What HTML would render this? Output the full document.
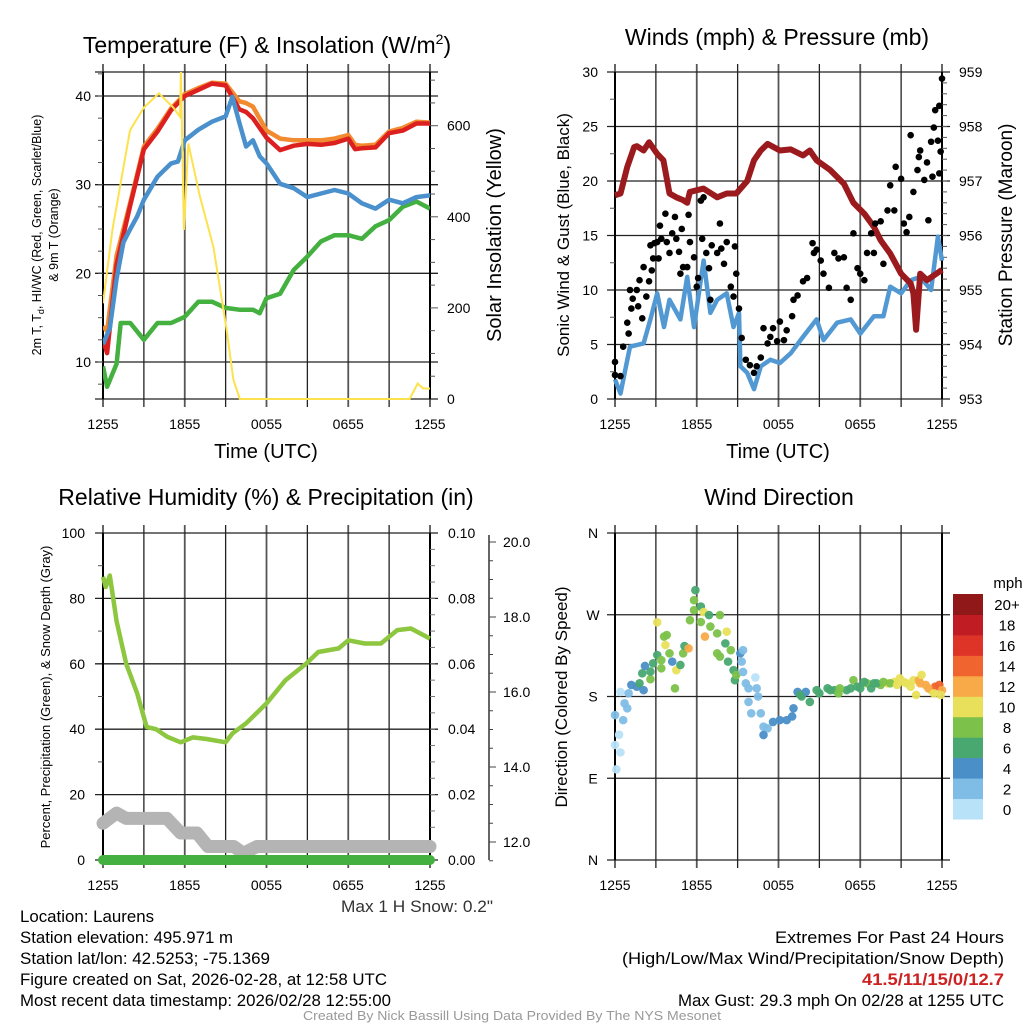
<!DOCTYPE html>
<html><head><meta charset="utf-8"><style>
html,body{margin:0;padding:0;background:#fff;}
svg{display:block;font-family:"Liberation Sans",sans-serif;}
</style></head><body>
<svg id="c" width="1024" height="1024" viewBox="0 0 1024 1024" xmlns="http://www.w3.org/2000/svg">
<text x="267" y="53" font-size="23" text-anchor="middle">Temperature (F) &amp; Insolation (W/m<tspan font-size="14" dy="-9">2</tspan><tspan dy="9">)</tspan></text>
<text x="777" y="45" font-size="23" text-anchor="middle">Winds (mph) &amp; Pressure (mb)</text>
<text x="266" y="505" font-size="23" text-anchor="middle">Relative Humidity (%) &amp; Precipitation (in)</text>
<text x="779" y="505" font-size="23" text-anchor="middle">Wind Direction</text>
<g id="g"></g>
<g font-size="16.5">
<text x="20" y="922" textLength="134" lengthAdjust="spacingAndGlyphs">Location: Laurens</text>
<text x="20" y="943" textLength="213" lengthAdjust="spacingAndGlyphs">Station elevation: 495.971 m</text>
<text x="20" y="964" textLength="250" lengthAdjust="spacingAndGlyphs">Station lat/lon: 42.5253; -75.1369</text>
<text x="20" y="985" textLength="367" lengthAdjust="spacingAndGlyphs">Figure created on Sat, 2026-02-28, at 12:58 UTC</text>
<text x="20" y="1006" textLength="371" lengthAdjust="spacingAndGlyphs">Most recent data timestamp: 2026/02/28 12:55:00</text>
<text x="341" y="912" textLength="152" lengthAdjust="spacingAndGlyphs" fill="#333">Max 1 H Snow: 0.2"</text>
<text x="775" y="943" textLength="229" lengthAdjust="spacingAndGlyphs">Extremes For Past 24 Hours</text>
<text x="622" y="964" textLength="382" lengthAdjust="spacingAndGlyphs">(High/Low/Max Wind/Precipitation/Snow Depth)</text>
<text x="862" y="985" textLength="142" lengthAdjust="spacingAndGlyphs" fill="#cc2222" font-weight="bold">41.5/11/15/0/12.7</text>
<text x="678" y="1006" textLength="326" lengthAdjust="spacingAndGlyphs">Max Gust: 29.3 mph On 02/28 at 1255 UTC</text>
<text x="303" y="1020" textLength="418" lengthAdjust="spacingAndGlyphs" font-size="13" fill="#999">Created By Nick Bassill Using Data Provided By The NYS Mesonet</text>
</g>
</svg>
<script>
// ---- data ----
const xTickLabels=["1255","1855","0055","0655","1255"];
const tempTicks=[10,20,30,40];
const solarTicks=[0,200,400,600];
const windTicks=[0,5,10,15,20,25,30];
const presTicks=[953,954,955,956,957,958,959];
const rhTicks=[0,20,40,60,80,100];
const precipTicks=["0.00","0.02","0.04","0.06","0.08","0.10"];
const snowTicks=[12,14,16,18,20];
const dirTicks=["N","E","S","W","N"];
const speedBins=["0","2","4","6","8","10","12","14","16","18","20+"];

const tHours=[0,0.3,1,2,3,4,5,6,7,8,9,10,10.5,11,12,13,14,15,16,17,18,18.5,19,20,21,22,23,24];
const tempRed=[12.5,11,21,27.7,34,36,38.4,40,40.7,41.4,41.2,38.5,38.2,37.5,35.3,33.9,34.4,34.6,34.5,34.7,35.2,34,34.1,34.2,35.8,36.1,36.9,36.9];
const tempOrange=[14,13.5,22,28,34.3,36.3,38.6,40.2,40.9,41.5,41.4,39.4,39.2,38.8,36.1,35.2,35,35,35,35.2,35.6,34.5,34.4,34.5,36,36.4,37.1,37];
const bHours=[0,0.5,1,1.5,2,2.5,3,4,5,5.5,6,7,8,9,9.5,10,10.5,11,11.5,12,13,14,15,16,17,18,19,20,21,22,23,24];
const tempBlue=[12,13.8,19.4,23.5,25,26.4,28.3,30.9,32.4,32.6,35,36.2,37.1,37.7,39.9,37,34.3,35,33.2,32.4,30.1,29.6,28.6,29,29.4,29,27.9,27.3,28.3,27.9,28.6,28.8];
const gHours=[0,0.3,1,1.3,2,3,4,5,6,7,8,9,10,11,11.5,12,13,14,15,16,17,18,19,20,21,22,23,24];
const tempGreen=[9.5,7.2,9.8,14.4,14.4,12.5,14.4,14.4,15.1,16.8,16.8,16.1,15.9,15.9,15.5,17.2,17.7,20.4,21.9,23.6,24.3,24.3,23.9,25.3,26,27.5,28.1,27.3];
const sHours=[0,0.69,1.98,3.0,4.1,5.16,5.65,5.72,5.94,6.26,7.12,8.1,9.08,9.57,10.05,22.5,23.1,23.5,24];
const solar=[210,371,590,640,671,640,620,718,371,561,444,334,151,42,0,0,34,23,23];

const wHours=[0,0.4,0.9,1.1,2.1,2.6,3.1,3.6,4.0,4.8,5.3,5.8,6.5,7,7.5,8.2,8.7,9.1,9.2,9.7,10.2,10.7,11.4,12.1,12.9,13.8,14.8,15.3,16.3,17.3,18,19,19.7,20.2,21,21.7,22.4,23.2,23.7,24];
const windSpeed=[1.8,0.5,3.6,4.8,5.1,7.3,9.7,6.6,9.1,7.3,11.2,6.6,12.7,7.9,9.1,9.7,6.6,7.9,3.0,2.4,0.9,3.0,3.6,3.3,4.2,5.7,7.3,5.4,7,7.3,6,7.6,7.6,10.3,9.7,10.9,11.2,10,14.9,12.7];
const pHours=[0,0.4,0.9,1.4,1.6,2.1,2.5,3.1,3.55,4,4.5,5,5.3,5.5,6.5,7.5,8.2,8.9,9.7,10.2,10.7,11.2,12.1,12.9,13.8,14.3,14.8,15.8,16.8,17.5,18.3,19,19.5,20.2,21,21.7,21.9,22.1,22.4,22.9,24];
const pressure=[956.74,956.77,957.26,957.62,957.64,957.56,957.71,957.5,957.38,956.77,956.7,956.65,956.6,956.8,956.86,956.7,956.77,956.77,957.0,957.38,957.56,957.68,957.56,957.58,957.47,957.56,957.38,957.2,956.95,956.6,956.4,956.16,955.91,955.67,955.3,955.12,954.94,954.27,955.3,955.18,955.37];
const gustHours=[0,0,0.4,0.6,0.9,1.0,1.1,1.2,1.3,1.6,1.7,1.8,2.0,2.1,2.3,2.5,2.6,2.7,2.8,2.9,3.1,3.2,3.3,3.4,3.7,3.8,4.0,4.2,4.4,4.5,4.7,4.8,4.9,5.0,5.3,5.4,5.5,5.8,6.0,6.1,6.3,6.4,6.5,6.7,6.9,7.0,7.1,7.5,7.7,7.8,8.0,8.2,8.5,8.7,8.8,8.9,9.1,9.3,9.6,9.9,10.2,10.4,10.7,10.9,11.2,11.4,11.6,11.9,12.1,12.4,12.6,13.0,13.1,13.4,13.8,14.1,14.5,14.6,14.8,15.1,15.3,15.7,16.1,16.4,16.8,17.0,17.3,17.5,17.8,18.0,18.3,18.5,18.8,19.0,19.1,19.5,19.7,20.0,20.2,20.5,20.6,21.0,21.2,21.4,21.6,21.7,21.9,22.2,22.3,22.4,22.7,22.9,23.0,23.2,23.3,23.4,23.5,23.7,23.8,23.9,24.0,23.8];
const gust=[3.4,2.2,2.1,4.8,7.0,6.0,10.0,8.3,9.2,10.0,8.5,10.9,7.4,12.1,9.4,10.8,14.1,11.8,12.9,14.3,14.4,12.9,15.9,14.7,17.0,14.4,13.4,15.2,16.7,14.7,13.5,11.5,15.6,12.1,12.1,16.9,14.4,13.0,10.3,11.1,18.2,14.7,18.5,13.4,12.0,9.1,14.1,13.4,16.1,13.8,12.4,14.4,10.3,9.4,14.0,11.5,8.3,5.6,3.6,3.1,2.4,3.0,3.8,6.5,5.1,5.7,6.5,5.3,7.1,5.4,6.3,7.6,9.1,9.5,10.8,11.1,14.3,13.4,13.7,12.7,11.5,10.2,13.4,12.9,13.0,10.2,9.1,15.2,12.0,11.5,10.9,13.4,15.2,13.4,16.1,16.3,12.4,17.3,19.6,17.3,21.3,20.2,16.1,15.3,16.7,24.2,19.0,21.0,22.2,22.8,20.1,21.7,16.4,23.6,20.4,24.9,26.5,23.7,26.9,22.7,29.4,20.7];

const rhHours=[0,0.2,0.5,0.7,1,1.7,2.5,3.2,3.9,4.7,5.7,6.6,7.6,9.0,9.5,10.5,12,13.4,14.9,15.8,17.3,18,19.2,20.4,21.6,22.6,24];
const rh=[86.6,83.5,87,81.5,73,60,51,40.7,40,37.7,36,37.5,37,36,38.7,41.8,47.9,55,60,63.6,64.7,67.2,66.2,66.2,70.3,70.8,67.7];
const snowHours=[0,1,1.7,4.7,5.7,6.9,7.7,9.6,10.3,11.3,24];
const snowDepth=[12.5,12.77,12.63,12.63,12.24,12.24,11.88,11.88,11.7,11.88,11.88];
const precipHours=[0,24];
const precip=[0,0];

const dirHours=[0,0,0.1,0.3,0.4,0.6,0.7,0.9,0.4,1.0,1.2,1.6,1.8,2.1,2.0,2.2,2.6,2.6,2.8,3.1,3.4,3.4,3.1,3.6,3.8,3.7,4.0,4.2,4.5,4.4,4.8,5.0,5.1,5.4,5.5,5.8,5.9,5.8,6.3,6.3,6.5,6.6,6.9,7.0,7.5,7.7,8.2,8.1,7.5,7.7,8.5,8.3,8.7,8.8,8.9,9.2,9.3,9.4,9.4,9.6,9.8,10.3,10.4,10.5,9.8,10.0,10.7,10.9,11.2,10.9,11.6,12.1,12.6,13.0,13.1,13.4,13.7,14.0,14.3,14.8,15.6,16.1,16.4,17.0,17.5,18.0,18.5,19.0,19.5,20.0,20.5,20.9,21.4,21.9,22.1,22.3,22.5,22.8,23.2,23.5,23.8,24.0,23.9,13.6,15.0,15.8,16.5,17.3,17.8,18.3,18.8,19.2,19.7,20.2,20.7,21.2,21.7,22.4,23.0,23.4];
const dirDeg=[159.6,126.6,99.8,138,118.5,154,172.5,167,185,183.5,192.7,190.8,194.5,187,205.5,213.6,199,207.4,216.5,225.7,220,211,261.7,246,247.7,236.7,227.5,218.4,209,189,214.7,227.5,235.6,233,264,275,297,286,279,262,273,246,269.7,257,249.5,269.7,251.4,238.5,227.5,224,231,218.4,209,198,203.7,227.5,218.4,231,207,194.5,189,201,189,180,174,161.5,161.5,146.8,145,137.6,152,154,154,158,167,185,180,185,174,187,189,187,183.5,187,198,189,194.5,194.5,192.7,194.5,196,200,194.5,198,181.7,198,203.7,192.7,187,190.8,192.7,187,181.7,181.7,183.5,187,189,189,190.8,196,189,194.5,196,194.5,192.7,196,190.8,194.5,189,183.5];
const dirSpeed=[2,1,0,1,1,2,2,2,0,3,4,5,6,4,6,4,8,6,6,6,8,8,10,8,8,10,8,4,10,8,6,8,6,12,8,8,6,8,6,8,10,12,6,8,8,8,10,6,8,8,8,6,6,6,8,4,3,2,2,2,2,0,2,2,2,2,2,2,2,4,4,4,4,4,4,4,6,4,6,6,6,6,8,6,8,6,8,6,8,10,10,10,10,10,10,12,10,12,10,14,14,12,10,6,6,6,8,6,6,6,6,6,8,8,10,10,10,12,12,10];

// ---- drawing ----
const NS="http://www.w3.org/2000/svg";
const G=document.getElementById('g');
function el(tag,at,parent){const e=document.createElementNS(NS,tag);for(const k in at)e.setAttribute(k,at[k]);(parent||G).appendChild(e);return e;}
function lin(d0,d1,r0,r1){return v=>r0+(v-d0)/(d1-d0)*(r1-r0);}
function pathFrom(xs,ys,fx,fy){return xs.map((h,i)=>(i?'L':'M')+fx(h).toFixed(1)+','+fy(ys[i]).toFixed(1)).join('');}
function txt(x,y,s,opt,name){const t=el('text',Object.assign({x:x,y:y},opt||{}));t.textContent=s;


return t;}

function frame(L,R,T,B,name){
  const g=el('g',{});
  
  
  for(let i=0;i<=8;i++){const x=L+(R-L)*i/8;el('line',{x1:x,x2:x,y1:T-8,y2:B+8,stroke:i%2?'#222':'#555','stroke-width':i%2?1.3:1.8},g);}
  return g;
}
function hgrid(g,L,R,ys){ys.forEach(y=>el('line',{x1:L-8,x2:R+8,y1:y,y2:y,stroke:'#222','stroke-width':1.3},g));}
function xlabels(L,R,y,name){xTickLabels.forEach((s,i)=>{txt(L+(R-L)*i/4,y,s,{'font-size':14,'text-anchor':'middle'},name+'-tick-'+i);});}

// ===== Panel 1: temperature =====
{
const L=103,R=430,T=72,B=399;
const fx=lin(0,24,L,R), fy=lin(10,40,362,96), fs=lin(0,600,399,125.7);
const g=frame(L,R,T,B,'temperature-panel');
hgrid(g,L,R,[T,B].concat(tempTicks.map(fy)));
el('line',{x1:L,x2:L,y1:T,y2:B,stroke:'#000','stroke-width':2},g);
el('line',{x1:R,x2:R,y1:T,y2:B,stroke:'#000','stroke-width':2},g);
for(let v=50;v<720;v+=50){el('line',{x1:R,x2:R+(v%200?5:8),y1:fs(v),y2:fs(v),stroke:'#555','stroke-width':1},g);}
for(let v=7.5;v<43;v+=2.5){el('line',{x1:L-5,x2:L,y1:fy(v),y2:fy(v),stroke:'#555','stroke-width':1},g);}
tempTicks.forEach(v=>txt(L-12,fy(v)+5,v,{'font-size':14,'text-anchor':'end'},'temp-tick-'+v));
solarTicks.forEach(v=>txt(R+17,fs(v)+5,v,{'font-size':14},'solar-tick-'+v));
xlabels(L,R,429,'temp-x');
txt(266,458,'Time (UTC)',{'font-size':20,'text-anchor':'middle'},'temp-x-title');
const ty=el('text',{transform:'translate(41,235) rotate(-90)','font-size':12.5,'text-anchor':'middle'});
ty.innerHTML='2m T, T<tspan font-size="9" dy="3">d</tspan><tspan dy="-3">, HI/WC (Red, Green, Scarlet/Blue)</tspan>';


txt(0,0,'& 9m T (Orange)',{transform:'translate(58,235) rotate(-90)','font-size':12.5,'text-anchor':'middle'},'temp-y-title-2');
txt(0,0,'Solar Insolation (Yellow)',{transform:'translate(501,235) rotate(-90)','font-size':20,'text-anchor':'middle'},'solar-y-title');
const clip=el('clipPath',{id:'c1'});el('rect',{x:L,y:T,width:R-L,height:B-T+2},clip);
const s=[[gHours,tempGreen,'#44b040','green-dewpoint-line'],[tHours,tempOrange,'#f28a30','orange-9m-temp-line'],[tHours,tempRed,'#dc2020','red-2m-temp-line'],[bHours,tempBlue,'#4a90cc','blue-windchill-line']];
s.forEach(a=>{const p=el('path',{d:pathFrom(a[0],a[1],fx,fy),fill:'none',stroke:a[2],'stroke-width':4.5,'stroke-linejoin':'round','clip-path':'url(#c1)'},g);

});
const ps=el('path',{d:pathFrom(sHours,solar,fx,fs),fill:'none',stroke:'#fde24e','stroke-width':2,'clip-path':'url(#c1)'},g);


}

// ===== Panel 2: winds =====
{
const L=615,R=942,T=72,B=399;
const fx=lin(0,24,L,R), fy=lin(0,30,B,T), fp=lin(953,959,B,T);
const g=frame(L,R,T,B,'winds-panel');
hgrid(g,L,R,windTicks.map(fy));
el('line',{x1:L,x2:L,y1:T,y2:B,stroke:'#000','stroke-width':2},g);
el('line',{x1:R,x2:R,y1:T,y2:B,stroke:'#000','stroke-width':2},g);
for(let v=2.5;v<30;v+=5){el('line',{x1:L-5,x2:L,y1:fy(v),y2:fy(v),stroke:'#555'},g);}
for(let v=953.2;v<959;v+=0.2){el('line',{x1:R,x2:R+5,y1:fp(v),y2:fp(v),stroke:'#555'},g);}
windTicks.forEach(v=>txt(L-17,fy(v)+5,v,{'font-size':14,'text-anchor':'end'},'wind-tick-'+v));
presTicks.forEach(v=>txt(R+17,fp(v)+5,v,{'font-size':14},'pressure-tick-'+v));
xlabels(L,R,429,'wind-x');
txt(778,458,'Time (UTC)',{'font-size':20,'text-anchor':'middle'},'wind-x-title');
txt(0,0,'Sonic Wind & Gust (Blue, Black)',{transform:'translate(569,235) rotate(-90)','font-size':17,'text-anchor':'middle'},'wind-y-title');
txt(0,0,'Station Pressure (Maroon)',{transform:'translate(1012,235) rotate(-90)','font-size':19,'text-anchor':'middle'},'pressure-y-title');
const pw=el('path',{d:pathFrom(wHours,windSpeed,fx,fy),fill:'none',stroke:'#5299d3','stroke-width':4.5,'stroke-linejoin':'round'},g);


const pp=el('path',{d:pathFrom(pHours,pressure,fx,fp),fill:'none',stroke:'#9b1a1e','stroke-width':6,'stroke-linejoin':'round'},g);


gustHours.forEach((h,i)=>{const c=el('circle',{cx:fx(h),cy:fy(gust[i]),r:3.3,fill:'#000'},g);

});
}

// ===== Panel 3: RH =====
{
const L=103,R=430,T=533,B=860;
const fx=lin(0,24,L,R), fy=lin(0,100,B,T), fsn=lin(12,20,842,542), fpr=lin(0,0.1,B,T);
const g=frame(L,R,T,B,'rh-panel');
hgrid(g,L,R,rhTicks.map(fy));
el('line',{x1:L,x2:L,y1:T,y2:B,stroke:'#000','stroke-width':2},g);
el('line',{x1:R,x2:R,y1:T,y2:B,stroke:'#000','stroke-width':2},g);
for(let v=10;v<100;v+=20){el('line',{x1:L-5,x2:L,y1:fy(v),y2:fy(v),stroke:'#555'},g);}
for(let v=0.005;v<0.1;v+=0.005){el('line',{x1:R,x2:R+5,y1:fpr(v),y2:fpr(v),stroke:'#777'},g);}
el('line',{x1:489,x2:489,y1:T+2,y2:B,stroke:'#333','stroke-width':1.5},g);
for(let v=11.5;v<20.2;v+=0.5){el('line',{x1:489,x2:489+(v%2?4:7),y1:fsn(v),y2:fsn(v),stroke:'#444'},g);}
rhTicks.forEach(v=>txt(L-18,fy(v)+5,v,{'font-size':14,'text-anchor':'end'},'rh-tick-'+v));
precipTicks.forEach((s,i)=>txt(R+18,fpr(i*0.02)+5,s,{'font-size':14},'precip-tick-'+i));
snowTicks.forEach(v=>txt(503,fsn(v)+5,v.toFixed(1),{'font-size':14},'snow-tick-'+v));
xlabels(L,R,890,'rh-x');
txt(0,0,'Percent, Precipitation (Green), & Snow Depth (Gray)',{transform:'translate(50,697) rotate(-90)','font-size':13,'text-anchor':'middle'},'rh-y-title');
const sn=el('path',{d:pathFrom(snowHours,snowDepth,fx,fsn),fill:'none',stroke:'#b4b4b4','stroke-width':13,'stroke-linecap':'round','stroke-linejoin':'round'},g);


const pr=el('path',{d:pathFrom(precipHours,precip,fx,fpr),fill:'none',stroke:'#44b040','stroke-width':10,'stroke-linecap':'round'},g);


const rl=el('path',{d:pathFrom(rhHours,rh,fx,fy),fill:'none',stroke:'#8dc63f','stroke-width':4.5,'stroke-linejoin':'round'},g);


}

// ===== Panel 4: wind direction =====
{
const L=615,R=942,T=533,B=860;
const fx=lin(0,24,L,R), fy=lin(0,360,B,T);
const g=frame(L,R,T,B,'wind-direction-panel');
hgrid(g,L,R,[0,90,180,270,360].map(fy));
el('line',{x1:L,x2:L,y1:T,y2:B,stroke:'#000','stroke-width':2},g);
el('line',{x1:R,x2:R,y1:T,y2:B,stroke:'#000','stroke-width':2},g);
dirTicks.forEach((s,i)=>txt(L-22,fy(i*90)+5,s,{'font-size':14,'text-anchor':'middle'},'direction-tick-'+i));
xlabels(L,R,890,'dir-x');
txt(0,0,'Direction (Colored By Speed)',{transform:'translate(567,697) rotate(-90)','font-size':17,'text-anchor':'middle'},'direction-y-title');
const cols=['#b8e2f8','#80bde6','#4a8fc8','#48a870','#7cc24a','#e8e05a','#f8aa48','#f06430','#de3428','#c01c24','#901818'];
dirHours.forEach((h,i)=>{const b=Math.min(10,Math.floor(dirSpeed[i]/2));
const c=el('circle',{cx:fx(h),cy:fy(dirDeg[i]),r:4.3,fill:cols[b],opacity:0.95},g);

});
const cb=el('g',{});


const h=225/11;
speedBins.forEach((s,i)=>{const y=819-(i+1)*h;
el('rect',{x:953,y:y,width:30,height:h+0.5,fill:cols[i]},cb);
txt(1007,y+h/2+6,s,{'font-size':15,'text-anchor':'middle'},'colorbar-label-'+i);});
txt(1008,588,'mph',{'font-size':15,'text-anchor':'middle'},'colorbar-title');
}
</script>
</body></html>
